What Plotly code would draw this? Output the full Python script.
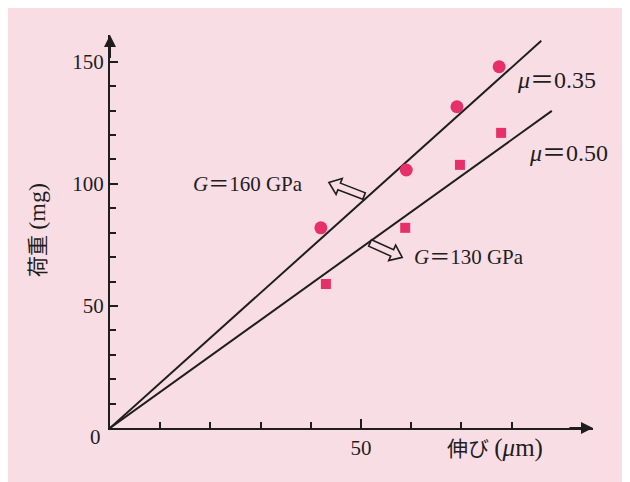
import math
import plotly.graph_objects as go

# ---- data ----
circle_x = [42.0, 59.0, 69.1, 77.5]
circle_y = [82.0, 105.7, 131.6, 148.0]
square_x = [43.0, 58.8, 69.7, 77.9]
square_y = [59.0, 82.0, 107.8, 120.9]
line160_x = [0, 85.9]
line160_y = [0, 158.6]
line130_x = [0, 88.0]
line130_y = [0, 129.9]

x_major = [50]
x_major_text = ["50"]
x_minor = [10, 20, 30, 40, 60, 70, 80]
y_major = [50, 100, 150]
y_major_text = ["50", "100", "150"]
y_minor = [10, 20, 30, 40, 60, 70, 80, 90, 110, 120, 130, 140]

X_MAX = 96.2
Y_MAX = 161

PINK = "#f8dde5"
MARK = "#e6306a"
INK = "#1e1e1e"
FONT = "Liberation Serif, Times New Roman, Noto Sans CJK JP, serif"

W, H = 617, 474
ML, MR, MT, MB = 102, 32, 27, 54
SX = (W - ML - MR) / X_MAX   # px per x unit
SY = (H - MT - MB) / Y_MAX   # px per y unit


def hollow_arrow(tail, head, w=3.5, hw=8.5, hl=11.0):
    tx, ty = tail[0] * SX, tail[1] * SY
    hx, hy = head[0] * SX, head[1] * SY
    L = math.hypot(hx - tx, hy - ty)
    dx, dy = (hx - tx) / L, (hy - ty) / L
    nx, ny = -dy, dx
    bx, by = hx - dx * hl, hy - dy * hl
    pts = [(tx + nx * w, ty + ny * w), (bx + nx * w, by + ny * w), (bx + nx * hw, by + ny * hw),
           (hx, hy), (bx - nx * hw, by - ny * hw), (bx - nx * w, by - ny * w), (tx - nx * w, ty - ny * w)]
    path = "M " + " L ".join(f"{px / SX:.4f},{py / SY:.4f}" for px, py in pts) + " Z"
    return dict(type="path", path=path, xref="x", yref="y", fillcolor=PINK,
                line=dict(color=INK, width=1.6), layer="above")


fig = go.Figure()
fig.add_trace(go.Scatter(x=line160_x, y=line160_y, mode="lines",
                         line=dict(color=INK, width=2), hoverinfo="skip"))
fig.add_trace(go.Scatter(x=line130_x, y=line130_y, mode="lines",
                         line=dict(color=INK, width=2), hoverinfo="skip"))
fig.add_trace(go.Scatter(x=circle_x, y=circle_y, mode="markers",
                         marker=dict(symbol="circle", size=13, color=MARK)))
fig.add_trace(go.Scatter(x=square_x, y=square_y, mode="markers",
                         marker=dict(symbol="square", size=10, color=MARK)))

ann = []
# axis arrowheads
ann.append(dict(x=X_MAX, y=0, ax=X_MAX - 5, ay=0, xref="x", yref="y", axref="x", ayref="y",
                showarrow=True, arrowhead=2, arrowsize=1.2, arrowwidth=2, arrowcolor=INK, text=""))
ann.append(dict(x=0, y=Y_MAX, ax=0, ay=Y_MAX - 10, xref="x", yref="y", axref="x", ayref="y",
                showarrow=True, arrowhead=2, arrowsize=1.2, arrowwidth=2, arrowcolor=INK, text=""))

shapes = [hollow_arrow((50.6, 95.0), (43.6, 100.6)),
          hollow_arrow((51.8, 75.8), (58.2, 69.9))]

LBL = dict(family=FONT, size=21, color=INK)
MU = dict(family=FONT, size=24, color=INK)
ann.append(dict(x=38.8, y=100, xref="x", yref="y", xanchor="right", yanchor="middle",
                text="<i>G</i>＝160 GPa", showarrow=False, font=LBL))
ann.append(dict(x=60.2, y=70.1, xref="x", yref="y", xanchor="left", yanchor="middle",
                text="<i>G</i>＝130 GPa", showarrow=False, font=LBL))
ann.append(dict(x=80.7, y=142.6, xref="x", yref="y", xanchor="left", yanchor="middle",
                text="<i>μ</i>＝0.35", showarrow=False, font=MU))
ann.append(dict(x=83.1, y=112.7, xref="x", yref="y", xanchor="left", yanchor="middle",
                text="<i>μ</i>＝0.50", showarrow=False, font=MU))
# origin label
ann.append(dict(x=-0.029, y=-0.023, xref="paper", yref="paper", xanchor="center", yanchor="middle",
                text="0", showarrow=False, font=LBL))
# axis titles
ann.append(dict(x=0.797, y=-0.051, xref="paper", yref="paper", xanchor="center", yanchor="middle",
                text="伸び <span style='font-size:25px'>(<i>μ</i>m)</span>", showarrow=False,
                font=dict(family=FONT, size=21, color=INK)))
ann.append(dict(x=-0.151, y=0.504, xref="paper", yref="paper", xanchor="center", yanchor="middle",
                text="荷重 <span style='font-size:24px'>(mg)</span>", textangle=-90, showarrow=False,
                font=dict(family=FONT, size=21, color=INK)))

fig.update_layout(
    width=W, height=H,
    margin=dict(l=ML, r=MR, t=MT, b=MB),
    paper_bgcolor=PINK, plot_bgcolor=PINK,
    showlegend=False,
    annotations=ann,
    shapes=shapes,
    font=dict(family=FONT, size=21, color=INK),
)
fig.update_xaxes(range=[0, X_MAX], showgrid=False, zeroline=False,
                 showline=True, linecolor=INK, linewidth=2,
                 tickmode="array", tickvals=x_major, ticktext=x_major_text,
                 ticks="inside", ticklen=9, tickwidth=2, tickcolor=INK,
                 tickfont=dict(family=FONT, size=21, color=INK),
                 minor=dict(tickmode="array", tickvals=x_minor, ticks="inside",
                            ticklen=6, tickwidth=2, tickcolor=INK, showgrid=False))
fig.update_yaxes(range=[0, Y_MAX], showgrid=False, zeroline=False,
                 showline=True, linecolor=INK, linewidth=2,
                 tickmode="array", tickvals=y_major, ticktext=y_major_text,
                 ticks="inside", ticklen=8, tickwidth=2, tickcolor=INK,
                 tickfont=dict(family=FONT, size=21, color=INK),
                 minor=dict(tickmode="array", tickvals=y_minor, ticks="inside",
                            ticklen=6, tickwidth=2, tickcolor=INK, showgrid=False))

fig.write_html("out.html")
